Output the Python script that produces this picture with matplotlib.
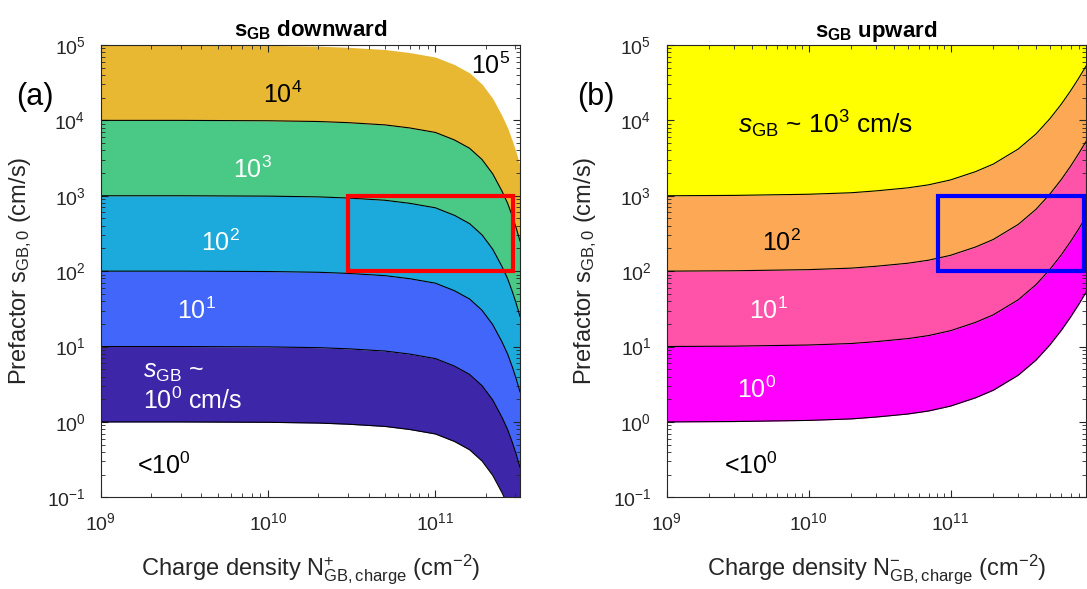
import numpy as np
import matplotlib
matplotlib.use('Agg')
import matplotlib.pyplot as plt
import matplotlib.patches as patches

plt.rcParams['font.family'] = ['Liberation Sans', 'DejaVu Sans']
plt.rcParams['mathtext.fontset'] = 'custom'
plt.rcParams['mathtext.rm'] = 'Liberation Sans'
plt.rcParams['mathtext.it'] = 'Liberation Sans:italic'
plt.rcParams['mathtext.bf'] = 'Liberation Sans:bold'

# dane
# (a) spadek s_GB (w dekadach) w funkcji gęstości ładunku N+
n_down = [1e9, 3e9, 1e10, 2e10, 3e10, 5e10, 7e10, 1e11, 1.3e11, 1.6e11, 1.9e11,
          2.2e11, 2.5e11, 2.7e11, 2.9e11, 3.05e11, 3.2e11]
drop_down = [0, 0, -0.005, -0.015, -0.03, -0.06, -0.10, -0.16, -0.26, -0.37, -0.52,
             -0.71, -0.94, -1.10, -1.29, -1.44, -1.60]
levels_down = [1e0, 1e1, 1e2, 1e3, 1e4, 1e5]
colors_down = ['#3d26a8', '#4266fa', '#1ca9dc', '#4ac886', '#e9b833']

# (b) wzrost s_GB (w dekadach) w funkcji gęstości ładunku N-
n_up = [1e9, 3e9, 1e10, 2e10, 3e10, 5e10, 7e10, 1e11, 1.5e11, 2e11, 3e11, 4e11,
        5e11, 6e11, 7e11, 8e11, 9e11]
rise_up = [0, 0.005, 0.02, 0.04, 0.065, 0.105, 0.145, 0.21, 0.32, 0.42, 0.62, 0.82,
           1.02, 1.21, 1.39, 1.56, 1.72]
levels_up = [1e0, 1e1, 1e2, 1e3]
colors_up = ['#ff00ff', '#ff52a8', '#fca854', '#ffff00']

W, H = 1087, 589
fig = plt.figure(figsize=(W / 100, H / 100), dpi=100)


def fx(px):
    return px / W


def fy(py):
    return 1 - py / H


def style_axes(ax, xmax):
    ax.set_xscale('log')
    ax.set_yscale('log')
    ax.set_xlim(1e9, xmax)
    ax.set_ylim(1e-1, 1e5)
    ax.tick_params(which='both', direction='in', top=True, right=True,
                   labelsize=14, colors='#262626', pad=11)
    ax.tick_params(which='major', length=5)
    ax.tick_params(which='minor', length=3)
    for s in ax.spines.values():
        s.set_color('#262626')
        s.set_linewidth(0.8)


ax1 = fig.add_axes([fx(100.7), fy(497.3), (520 - 100.7) / W, (497.3 - 45) / H])
ax2 = fig.add_axes([fx(666.6), fy(497.3), (1086 - 666.6) / W, (497.3 - 45) / H])

# panel (a)
n = np.array(n_down)
f = 10.0 ** np.array(drop_down)
for k in range(len(colors_down)):
    ax1.fill_between(n, levels_down[k] * f, levels_down[k + 1] * f,
                     color=colors_down[k], linewidth=0)
for lev in levels_down[:-1]:
    ax1.plot(n, lev * f, color='k', lw=0.8)
ax1.add_patch(patches.Rectangle((3e10, 1e2), 2.9e11 - 3e10, 9e2, fill=False,
                                edgecolor='#ff0000', lw=3, zorder=5))
style_axes(ax1, 3.2e11)

# panel (b)
n = np.array(n_up)
h = 10.0 ** np.array(rise_up)
for k in range(len(colors_up)):
    top = levels_up[k + 1] * h if k + 1 < len(levels_up) else np.full_like(h, 1e6)
    ax2.fill_between(n, levels_up[k] * h, top, color=colors_up[k], linewidth=0)
for lev in levels_up:
    ax2.plot(n, lev * h, color='k', lw=0.8)
ax2.add_patch(patches.Rectangle((8.2e10, 1e2), 8.7e11 - 8.2e10, 9e2, fill=False,
                                edgecolor='#0000ff', lw=3, zorder=5))
style_axes(ax2, 9e11)

# opisy osi
ax1.set_xlabel(r'Charge density N$^{+}_{\mathrm{GB,charge}}$ (cm$^{-2}$)',
               fontsize=17, color='#262626')
ax2.set_xlabel(r'Charge density N$^{-}_{\mathrm{GB,charge}}$ (cm$^{-2}$)',
               fontsize=17, color='#262626')
for ax in (ax1, ax2):
    ax.set_ylabel(r'Prefactor s$_{\mathrm{GB,0}}$ (cm/s)', fontsize=17, color='#262626')
    ax.xaxis.set_label_coords(0.5, -0.122)
    ax.yaxis.set_label_coords(-0.16, 0.5)

ax1.set_title(r'$\mathbf{s_{GB}}$ downward', fontsize=16, fontweight='bold', pad=6)
ax2.set_title(r'$\mathbf{s_{GB}}$ upward', fontsize=16, fontweight='bold', pad=6)

# etykiety obszarów
fs = 18
fig.text(fx(35), fy(97), '(a)', fontsize=22, ha='center', va='center')
fig.text(fx(596), fy(97), '(b)', fontsize=22, ha='center', va='center')

fig.text(fx(283), fy(95), r'10$^4$', fontsize=fs, ha='center', va='center', color='k')
fig.text(fx(491), fy(66), r'10$^5$', fontsize=fs, ha='center', va='center', color='k')
fig.text(fx(252), fy(170), r'10$^3$', fontsize=fs, ha='center', va='center', color='w')
fig.text(fx(220), fy(243), r'10$^2$', fontsize=fs, ha='center', va='center', color='w')
fig.text(fx(196), fy(311), r'10$^1$', fontsize=fs, ha='center', va='center', color='w')
fig.text(fx(143), fy(372), r'$\mathit{s}_{\mathrm{GB}}$ ~', fontsize=fs, ha='left', va='center', color='w')
fig.text(fx(143), fy(401), r'10$^0$ cm/s', fontsize=fs, ha='left', va='center', color='w')
fig.text(fx(164), fy(466), r'<10$^0$', fontsize=fs, ha='center', va='center', color='k')

fig.text(fx(826), fy(124), r'$\mathit{s}_{\mathrm{GB}}$ ~ 10$^3$ cm/s', fontsize=19,
         ha='center', va='center', color='k')
fig.text(fx(781), fy(243), r'10$^2$', fontsize=fs, ha='center', va='center', color='k')
fig.text(fx(768), fy(311), r'10$^1$', fontsize=fs, ha='center', va='center', color='w')
fig.text(fx(757), fy(390), r'10$^0$', fontsize=fs, ha='center', va='center', color='w')
fig.text(fx(751), fy(466), r'<10$^0$', fontsize=fs, ha='center', va='center', color='k')

plt.savefig('out.png', dpi=100)
